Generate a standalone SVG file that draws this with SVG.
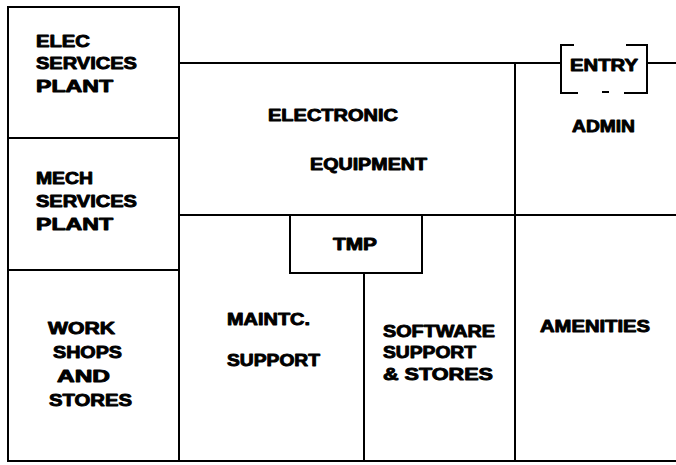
<svg xmlns="http://www.w3.org/2000/svg" width="676" height="465" viewBox="0 0 676 465">
<style>
.w{stroke:#000;stroke-width:2;fill:none;stroke-linecap:square}
.t{font-family:"Liberation Sans",Arial,sans-serif;font-weight:bold;font-size:16.5px;fill:#000;stroke:#000;stroke-width:0.9;stroke-linejoin:round}
</style>
<rect width="676" height="465" fill="#fff"/>
<g id="walls">
<rect class="w" x="8" y="7" width="171" height="454"/>
<line class="w" x1="8" y1="138" x2="179" y2="138"/>
<line class="w" x1="8" y1="270" x2="179" y2="270"/>
<line class="w" x1="179" y1="63" x2="561" y2="63"/>
<line class="w" x1="647" y1="63" x2="676" y2="63"/>
<line class="w" x1="179" y1="215" x2="676" y2="215"/>
<line class="w" x1="515" y1="63" x2="515" y2="461"/>
<line class="w" x1="179" y1="461" x2="676" y2="461"/>
<line class="w" x1="364" y1="273" x2="364" y2="461"/>
</g>
<g id="elec-services-plant">
<text class="t" x="36" y="47" textLength="54" lengthAdjust="spacingAndGlyphs">ELEC</text>
<text class="t" x="36" y="69" textLength="101" lengthAdjust="spacingAndGlyphs">SERVICES</text>
<text class="t" x="36" y="92" textLength="77" lengthAdjust="spacingAndGlyphs">PLANT</text>
</g>
<g id="mech-services-plant">
<text class="t" x="36" y="184" textLength="57" lengthAdjust="spacingAndGlyphs">MECH</text>
<text class="t" x="36" y="207" textLength="101" lengthAdjust="spacingAndGlyphs">SERVICES</text>
<text class="t" x="36" y="230" textLength="77" lengthAdjust="spacingAndGlyphs">PLANT</text>
</g>
<g id="workshops-stores">
<text class="t" x="48" y="334" textLength="67" lengthAdjust="spacingAndGlyphs">WORK</text>
<text class="t" x="53" y="358" textLength="69" lengthAdjust="spacingAndGlyphs">SHOPS</text>
<text class="t" x="57" y="382" textLength="53" lengthAdjust="spacingAndGlyphs">AND</text>
<text class="t" x="49" y="406" textLength="83" lengthAdjust="spacingAndGlyphs">STORES</text>
</g>
<g id="electronic-equipment">
<text class="t" x="268" y="121" textLength="130" lengthAdjust="spacingAndGlyphs">ELECTRONIC</text>
<text class="t" x="310" y="170" textLength="117" lengthAdjust="spacingAndGlyphs">EQUIPMENT</text>
</g>
<g id="entry">
<path class="w" d="M573,45 H561 V93 H577 M627,45 H647 V93 H625 M603,92 H608" stroke-linecap="butt"/>
<text class="t" x="570" y="71" textLength="68" lengthAdjust="spacingAndGlyphs">ENTRY</text>
</g>
<g id="admin">
<text class="t" x="572" y="132" textLength="63" lengthAdjust="spacingAndGlyphs">ADMIN</text>
</g>
<g id="tmp">
<rect class="w" x="290" y="215" width="132" height="58"/>
<text class="t" x="333" y="250" textLength="44" lengthAdjust="spacingAndGlyphs">TMP</text>
</g>
<g id="maintc-support">
<text class="t" x="227" y="325" textLength="83" lengthAdjust="spacingAndGlyphs">MAINTC.</text>
<text class="t" x="227" y="366" textLength="93" lengthAdjust="spacingAndGlyphs">SUPPORT</text>
</g>
<g id="software-support-stores">
<text class="t" x="383" y="337" textLength="112" lengthAdjust="spacingAndGlyphs">SOFTWARE</text>
<text class="t" x="383" y="358" textLength="93" lengthAdjust="spacingAndGlyphs">SUPPORT</text>
<text class="t" x="383" y="380" textLength="110" lengthAdjust="spacingAndGlyphs">&amp; STORES</text>
</g>
<g id="amenities">
<text class="t" x="540" y="332" textLength="110" lengthAdjust="spacingAndGlyphs">AMENITIES</text>
</g>
</svg>
